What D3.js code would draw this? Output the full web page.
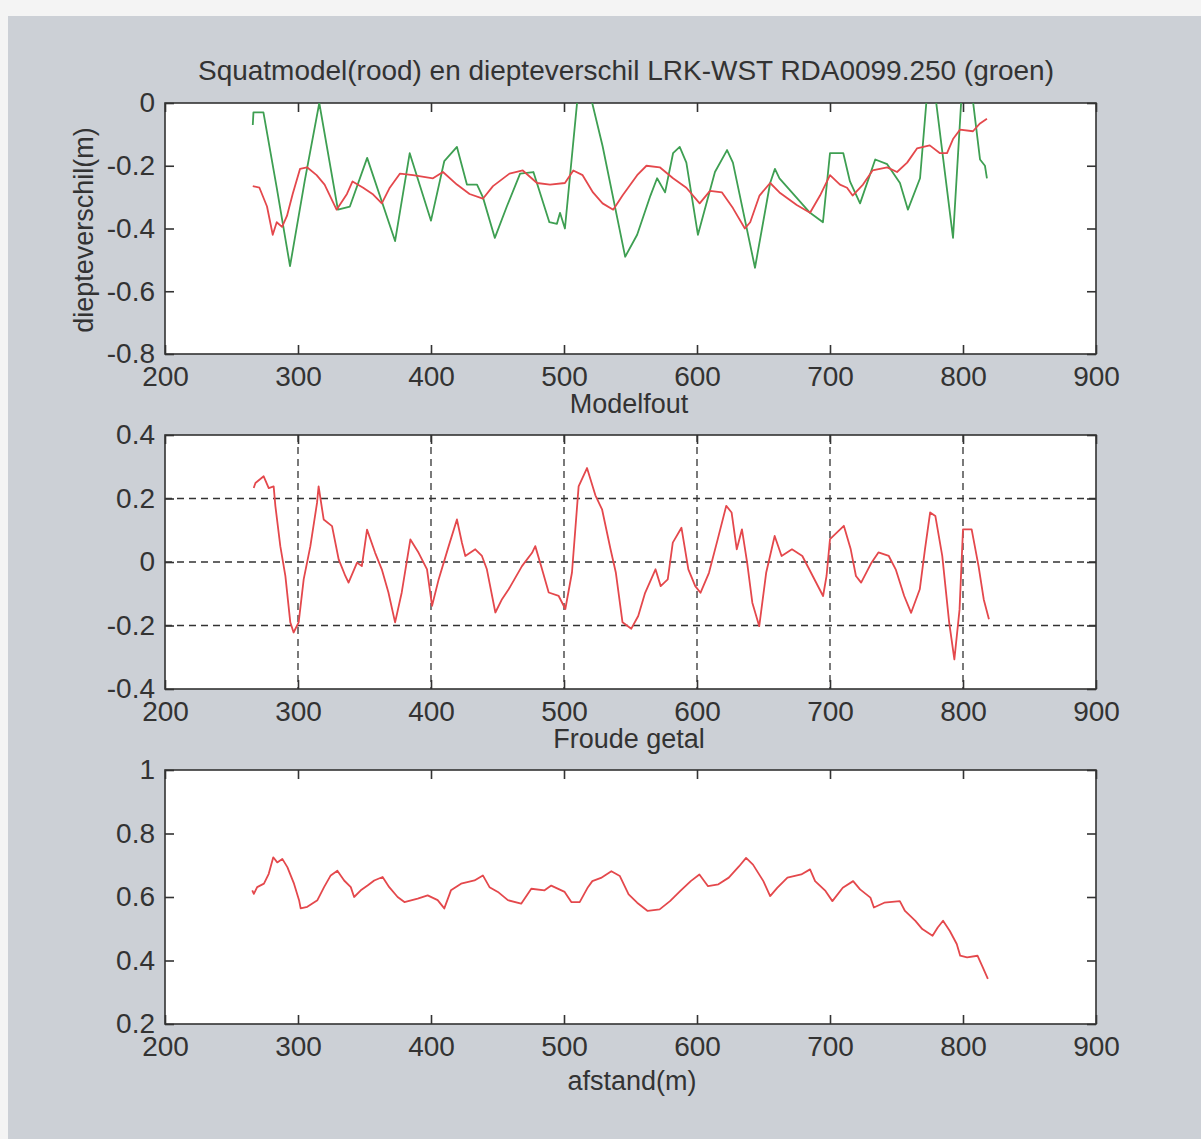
<!DOCTYPE html>
<html>
<head>
<meta charset="utf-8">
<script src="https://cdn.jsdelivr.net/npm/d3@7"></script>
<style>
  body { margin: 0; background: #f4f4f4; }
  svg text { font-family: "Liberation Sans", Arial, sans-serif; fill: #333; }
</style>
</head>
<body>
<div id="chart"></div>
<script>
// afstand (m) tick labels, shared by all three panels
const xTicks = [200, 300, 400, 500, 600, 700, 800, 900];
const yTicks1 = [0, -0.2, -0.4, -0.6, -0.8];
const yTicks2 = [0.4, 0.2, 0, -0.2, -0.4];
const yTicks3 = [1, 0.8, 0.6, 0.4, 0.2];

// panel 1: squatmodel (rood) [afstand, diepteverschil]
const squat = [
  [266, -0.265], [271, -0.27], [276.7, -0.33], [281, -0.42], [284, -0.38], [288, -0.395],
  [291.7, -0.36], [296, -0.29], [301.5, -0.21], [306.8, -0.205], [314, -0.23], [320, -0.26],
  [329, -0.34], [336.8, -0.29], [341, -0.25], [349, -0.27], [356, -0.29], [363, -0.32],
  [369, -0.27], [376.7, -0.225], [386.5, -0.23], [401.5, -0.24], [409, -0.22], [419.5, -0.26],
  [429, -0.29], [439, -0.305], [446.6, -0.265], [459, -0.225], [469, -0.215], [479.7, -0.255],
  [489.5, -0.26], [500.7, -0.255], [507, -0.215], [514, -0.23], [521.8, -0.285], [529, -0.32],
  [537, -0.34], [544, -0.295], [555, -0.23], [562, -0.2], [572, -0.205], [582, -0.24],
  [592, -0.27], [602, -0.32], [609.8, -0.28], [618.8, -0.285], [627, -0.335], [636, -0.4],
  [640, -0.38], [647, -0.295], [655, -0.255], [662, -0.285], [675, -0.325], [685, -0.35],
  [692.5, -0.295], [700, -0.23], [707.5, -0.26], [712.8, -0.27], [717, -0.295], [724.8, -0.26],
  [732, -0.215], [743, -0.205], [750.4, -0.22], [758, -0.19], [765.4, -0.145], [775, -0.135],
  [782.7, -0.16], [788, -0.16], [792.5, -0.115], [797.7, -0.085], [807.5, -0.09], [812.8, -0.065],
  [818, -0.05]
];

// panel 1: diepteverschil LRK-WST (groen)
const diepte = [
  [266, -0.07], [266.5, -0.03], [274, -0.03], [284, -0.27], [294, -0.52], [305, -0.25],
  [316, 0.0], [330, -0.34], [339, -0.33], [352, -0.175], [373, -0.44], [384, -0.16],
  [400, -0.375], [410, -0.185], [419.5, -0.14], [427, -0.26], [434.6, -0.26], [439, -0.30],
  [448, -0.43], [457, -0.33], [467, -0.225], [477, -0.22], [489, -0.38], [494.7, -0.385],
  [497, -0.35], [500.7, -0.40], [510.5, 0.03], [519.5, 0.03], [529, -0.137], [546, -0.49],
  [555, -0.42], [565, -0.295], [570, -0.24], [576, -0.285], [582, -0.16], [587, -0.14],
  [592, -0.19], [600.7, -0.42], [613.5, -0.22], [622.6, -0.15], [627, -0.19], [643.6, -0.525],
  [655, -0.255], [658.6, -0.21], [662, -0.24], [685, -0.35], [694.7, -0.38], [700, -0.16],
  [710, -0.16], [715, -0.25], [722.6, -0.32], [734, -0.18], [743, -0.195], [752.6, -0.255],
  [758.6, -0.34], [767.7, -0.24], [773, 0.03], [779, 0.03], [792.5, -0.43], [799, 0.03],
  [806.8, 0.03], [812.8, -0.18], [816.5, -0.2], [818, -0.24]
];

// panel 2: modelfout
const modelfout = [
  [266.7, 0.233], [268, 0.249], [274.2, 0.27], [278, 0.233], [281.7, 0.238], [283, 0.176],
  [286.7, 0.05], [290.5, -0.044], [294.2, -0.19], [296.7, -0.222], [300.5, -0.19], [304.3, -0.054],
  [309.3, 0.05], [314.3, 0.186], [315.5, 0.238], [319.3, 0.134], [325.6, 0.113], [330.6, 0.008],
  [335.6, -0.044], [338, -0.065], [344.4, -0.002], [348, -0.013], [351.9, 0.102], [358, 0.029],
  [363, -0.023], [368, -0.096], [373, -0.19], [378, -0.096], [384.5, 0.071], [390.7, 0.029],
  [397, -0.023], [400.8, -0.138], [405.8, -0.054], [413.3, 0.05], [419.5, 0.134], [423.3, 0.06],
  [425.8, 0.019], [433.3, 0.04], [438.3, 0.019], [442, -0.023], [448.4, -0.159], [453.4, -0.117],
  [458.4, -0.086], [468.4, -0.013], [476, 0.029], [478.4, 0.05], [483.5, -0.023], [488.5, -0.096],
  [496, -0.107], [501, -0.148], [506, -0.033], [511, 0.238], [517.3, 0.296], [523.6, 0.21],
  [528.6, 0.166], [535, 0.04], [539, -0.034], [544, -0.19], [550.6, -0.21], [555.8, -0.17],
  [561, -0.097], [568.8, -0.023], [572.7, -0.076], [578, -0.055], [581.8, 0.061], [588.3, 0.108],
  [593.5, -0.023], [598.7, -0.076], [602.6, -0.097], [609, -0.034], [615.6, 0.072], [622, 0.177],
  [626, 0.156], [629.9, 0.04], [633.8, 0.103], [637.7, -0.002], [641.6, -0.128], [646.8, -0.202],
  [652, -0.034], [658.4, 0.082], [663.6, 0.019], [671.4, 0.04], [679.2, 0.019], [687, -0.044],
  [694.8, -0.107], [697.4, -0.044], [700, 0.072], [710.4, 0.114], [715.6, 0.04], [719.5, -0.044],
  [723.4, -0.065], [731.2, -0.002], [736.4, 0.03], [744.2, 0.019], [749.4, -0.023], [755.8, -0.107],
  [761, -0.16], [767.5, -0.086], [771.4, 0.04], [775.3, 0.156], [779.2, 0.145], [784.4, 0.019],
  [789.6, -0.19], [793.5, -0.307], [797.4, -0.15], [800, 0.103], [806.5, 0.103], [811.7, -0.013],
  [815.6, -0.118], [819.5, -0.18]
];

// panel 3: Froude getal
const froude = [
  [265.6, 0.621], [266.8, 0.61], [269.3, 0.631], [274.4, 0.642], [278, 0.673], [281.4, 0.725],
  [284.4, 0.709], [288.2, 0.72], [292, 0.694], [297, 0.642], [300.8, 0.59], [302, 0.564],
  [307, 0.569], [314.6, 0.59], [319.6, 0.631], [324.6, 0.668], [329.6, 0.683], [334.7, 0.652],
  [339.7, 0.631], [342.2, 0.6], [347.2, 0.621], [352.3, 0.636], [357.3, 0.652], [363.6, 0.663],
  [368.6, 0.631], [374.9, 0.6], [380, 0.584], [390, 0.595], [397.5, 0.605], [405, 0.59],
  [410, 0.564], [415, 0.621], [422.6, 0.642], [432.7, 0.652], [439, 0.668], [444, 0.631],
  [450.3, 0.616], [457.8, 0.59], [467.8, 0.579], [475.4, 0.626], [485.4, 0.621], [490.4, 0.636],
  [500.5, 0.616], [505.5, 0.584], [511.8, 0.584], [518, 0.631], [521.3, 0.65], [527.8, 0.66],
  [535.6, 0.681], [542, 0.666], [548.6, 0.608], [555, 0.582], [562.9, 0.556], [571.9, 0.561],
  [579.7, 0.587], [587.5, 0.619], [595.3, 0.65], [601.8, 0.671], [608.3, 0.634], [616.1, 0.64],
  [623.9, 0.661], [631.7, 0.697], [636.9, 0.723], [642.1, 0.702], [649.9, 0.65], [655, 0.603],
  [660.3, 0.629], [668, 0.661], [678.4, 0.671], [685, 0.687], [688.8, 0.65], [696.6, 0.619],
  [701.8, 0.587], [709.6, 0.629], [717.4, 0.65], [722.6, 0.624], [730.4, 0.598], [733, 0.567],
  [740.8, 0.582], [752.5, 0.587], [756.4, 0.556], [764.2, 0.525], [769.4, 0.499], [777.1, 0.478],
  [781, 0.504], [785, 0.525], [790.1, 0.493], [795.3, 0.452], [797.9, 0.415], [803.1, 0.41],
  [810.9, 0.415], [814.8, 0.379], [818.7, 0.342]
];

const red = "#e4484c", green = "#3e9f52", ink = "#333";

const W = 1201, H = 1139;
const svg = d3.select("#chart").append("svg")
  .attr("width", W).attr("height", H);

// grey MATLAB figure background (scan leaves a light strip top/left)
svg.append("rect").attr("x", 8).attr("y", 16).attr("width", W - 8).attr("height", H - 16)
  .attr("fill", "#ccd0d6");

svg.append("text").attr("x", 198).attr("y", 80)
  .attr("textLength", 856).attr("lengthAdjust", "spacingAndGlyphs")
  .style("font-size", "28px")
  .text("Squatmodel(rood) en diepteverschil LRK-WST RDA0099.250 (groen)");

const x = d3.scaleLinear().domain([200, 900]).range([165, 1096]);

function panel(top, bottom, yDomain, yTicks, id, grid) {
  const y = d3.scaleLinear().domain(yDomain).range([bottom, top]);
  const g = svg.append("g");
  g.append("rect").attr("x", 165).attr("y", top).attr("width", 1096 - 165).attr("height", bottom - top)
    .attr("fill", "white");
  g.append("clipPath").attr("id", id).append("rect")
    .attr("x", 165).attr("y", top).attr("width", 1096 - 165).attr("height", bottom - top);

  if (grid) {
    g.selectAll(".gx").data(xTicks.slice(1, -1)).join("line")
      .attr("x1", d => x(d)).attr("x2", d => x(d)).attr("y1", top).attr("y2", bottom)
      .attr("stroke", ink).attr("stroke-width", 1.3).attr("stroke-dasharray", "7,5");
    g.selectAll(".gy").data(yTicks.slice(1, -1)).join("line")
      .attr("x1", 165).attr("x2", 1096).attr("y1", d => y(d)).attr("y2", d => y(d))
      .attr("stroke", ink).attr("stroke-width", 1.3).attr("stroke-dasharray", "7,5");
  }

  const fmt = d => String(d);
  const bottomAx = g.append("g").attr("transform", `translate(0,${bottom})`)
    .call(d3.axisBottom(x).tickValues(xTicks).tickFormat(fmt).tickSize(-9).tickSizeOuter(0).tickPadding(12));
  const topAx = g.append("g").attr("transform", `translate(0,${top})`)
    .call(d3.axisTop(x).tickValues(xTicks).tickFormat("").tickSize(-9).tickSizeOuter(0));
  const leftAx = g.append("g").attr("transform", "translate(165,0)")
    .call(d3.axisLeft(y).tickValues(yTicks).tickFormat(fmt).tickSize(-9).tickSizeOuter(0).tickPadding(10));
  const rightAx = g.append("g").attr("transform", "translate(1096,0)")
    .call(d3.axisRight(y).tickValues(yTicks).tickFormat("").tickSize(-9).tickSizeOuter(0));
  [bottomAx, topAx, leftAx, rightAx].forEach(a => {
    a.select(".domain").remove();
    a.selectAll("line").attr("stroke", ink).attr("stroke-width", 1.6);
    a.selectAll("text").style("font-size", "28px").attr("fill", "#333");
  });

  g.append("rect").attr("x", 165).attr("y", top).attr("width", 1096 - 165).attr("height", bottom - top)
    .attr("fill", "none").attr("stroke", ink).attr("stroke-width", 1.6);
  return { g, y };
}

function drawLine(p, data, color, clipId) {
  const line = d3.line().x(d => x(d[0])).y(d => p.y(d[1]));
  p.g.append("path").datum(data)
    .attr("d", line)
    .attr("clip-path", `url(#${clipId})`)
    .attr("fill", "none").attr("stroke", color).attr("stroke-width", 1.8)
    .attr("stroke-linejoin", "round");
}

const p1 = panel(103, 354, [-0.8, 0], yTicks1, "c1", false);
drawLine(p1, diepte, green, "c1");
drawLine(p1, squat, red, "c1");

const p2 = panel(435, 689, [-0.4, 0.4], yTicks2, "c2", true);
drawLine(p2, modelfout, red, "c2");

const p3 = panel(770, 1024, [0.2, 1], yTicks3, "c3", false);
drawLine(p3, froude, red, "c3");

// axis titles
svg.append("text").attr("transform", "translate(93,230) rotate(-90)")
  .attr("text-anchor", "middle").style("font-size", "27px").text("diepteverschil(m)");
svg.append("text").attr("x", 629).attr("y", 413).attr("text-anchor", "middle")
  .style("font-size", "27px").text("Modelfout");
svg.append("text").attr("x", 629).attr("y", 748).attr("text-anchor", "middle")
  .style("font-size", "27px").text("Froude getal");
svg.append("text").attr("x", 632).attr("y", 1090).attr("text-anchor", "middle")
  .style("font-size", "27px").text("afstand(m)");
</script>
</body>
</html>
